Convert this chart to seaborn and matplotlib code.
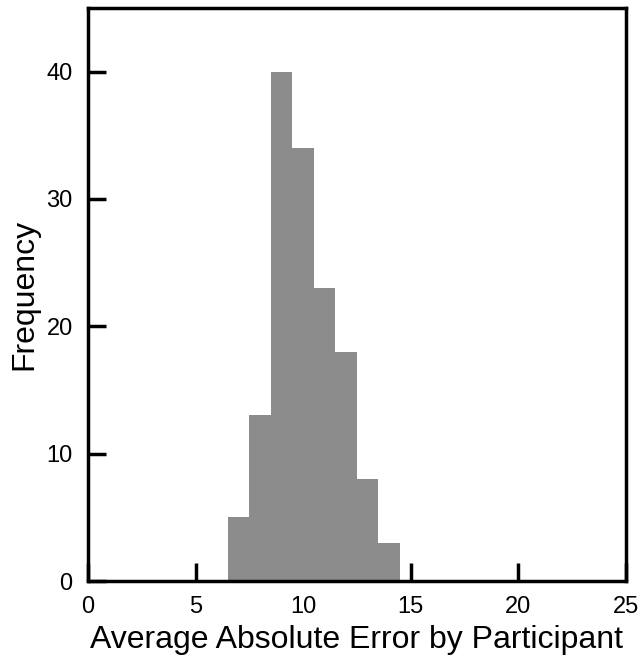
import numpy as np
import pandas as pd
import seaborn as sns
import matplotlib.pyplot as plt

# histogram: bin centres and counts per bin
bin_centers = [7, 8, 9, 10, 11, 12, 13, 14]
counts = [5, 13, 40, 34, 23, 18, 8, 3]
x_ticks = [0, 5, 10, 15, 20, 25]
y_ticks = [0, 10, 20, 30, 40]

df = pd.DataFrame({"error": bin_centers, "n": counts})

sns.set_theme(style="white")
plt.rcParams['font.family'] = ['Liberation Sans', 'DejaVu Sans']

fig = plt.figure(figsize=(6.42, 6.61), dpi=100)
ax = fig.add_axes([0.137, 0.121, 0.838, 0.867])

sns.histplot(data=df, x="error", weights="n", binwidth=1, binrange=(6.5, 14.5),
             color="#8c8c8c", alpha=1, edgecolor="none", linewidth=0, ax=ax)

ax.set_xlim(0, 25)
ax.set_ylim(0, 45)
ax.set_xticks(x_ticks)
ax.set_yticks(y_ticks)
ax.set_xlabel("Average Absolute Error by Participant", fontsize=23, labelpad=5,
              color="black")
ax.set_ylabel("Frequency", fontsize=23, labelpad=5, color="black")
ax.tick_params(bottom=True, left=True, direction="in", length=13, width=2.5,
               labelsize=17, pad=11, colors="black")
for s in ax.spines.values():
    s.set_color("black")
    s.set_linewidth(2.5)

fig.savefig("out.png", dpi=100)
